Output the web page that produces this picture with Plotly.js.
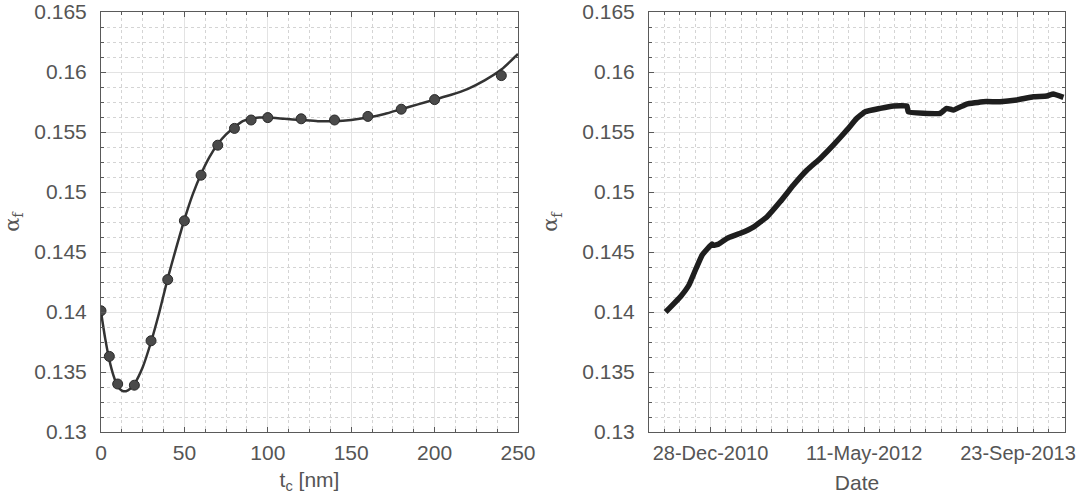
<!DOCTYPE html>
<html>
<head>
<meta charset="utf-8">
<script src="https://cdn.plot.ly/plotly-3.0.1.min.js"></script>
<style>html,body{margin:0;padding:0;background:#fff;}#chart{width:1077px;height:494px;}</style>
</head>
<body>
<div id="chart"></div>
<script>
// Left panel: measured points
const thickPts = [0, 5, 10, 20, 30, 40, 50, 60, 70, 80, 90, 100, 120, 140, 160, 180, 200, 240];
const alphaPts = [0.1401, 0.1363, 0.1340, 0.1339, 0.1376, 0.1427, 0.1476, 0.1514, 0.1539, 0.1553, 0.1560, 0.1562, 0.1561, 0.1560, 0.1563, 0.1569, 0.1577, 0.1597];
// Left panel: fitted curve
const thickFit = [0, 2.5, 5, 7.5, 10, 12.5, 15, 17.5, 20, 25, 30, 35, 40, 45, 50, 55, 60, 65, 70, 75, 80, 85, 90, 95, 100, 110, 120, 130, 140, 150, 160, 170, 180, 190, 200, 210, 220, 230, 240, 250];
const alphaFit = [0.1400, 0.1378, 0.1360, 0.1347, 0.1338, 0.13345, 0.1334, 0.1336, 0.1340, 0.1354, 0.1375, 0.1400, 0.1428, 0.1453, 0.1477, 0.1498, 0.1515, 0.1529, 0.1540, 0.1548, 0.1554, 0.1559, 0.1561, 0.1562, 0.1562, 0.1561, 0.1560, 0.1559, 0.1559, 0.1560, 0.1562, 0.1565, 0.1569, 0.1573, 0.1577, 0.1581, 0.1586, 0.1593, 0.1602, 0.1615];
// Right panel: time series
const dates = ['2010-08-04','2010-09-22','2010-10-19','2010-11-09','2010-12-01','2011-01-02','2011-01-06','2011-01-24','2011-02-20','2011-04-04','2011-05-18','2011-06-30','2011-08-12','2011-09-24','2011-11-07','2011-12-20','2012-02-01','2012-03-16','2012-04-17','2012-05-14','2012-07-02','2012-08-14','2012-09-27','2012-10-01','2012-11-19','2013-01-13','2013-02-03','2013-02-25','2013-04-09','2013-06-02','2013-07-27','2013-09-19','2013-11-12','2013-12-26','2014-01-16','2014-02-18'];
const alphaDates = [0.1400, 0.1413, 0.14225, 0.1435, 0.14475, 0.14567, 0.14555, 0.14567, 0.14614, 0.14656, 0.1471, 0.14794, 0.1492, 0.15058, 0.15183, 0.1528, 0.15392, 0.15517, 0.15614, 0.15669, 0.15697, 0.15717, 0.15717, 0.15669, 0.15656, 0.15656, 0.15697, 0.15683, 0.15733, 0.15753, 0.15753, 0.15767, 0.15794, 0.1580, 0.15817, 0.15789];
const yTicks = [0.13, 0.135, 0.14, 0.145, 0.15, 0.155, 0.16, 0.165];
const yTickText = ['0.13', '0.135', '0.14', '0.145', '0.15', '0.155', '0.16', '0.165'];

const FONT = 'Liberation Sans, Arial, Helvetica, sans-serif';
const TXT = '#555555';
const DAY = 86400000;

const baseAxis = {
  showline: true, linecolor: '#5a5a5a', linewidth: 1, mirror: 'ticks',
  ticks: 'inside', ticklen: 5, tickcolor: '#5a5a5a', tickwidth: 1,
  showgrid: true, gridcolor: '#e3e3e3', gridwidth: 1,
  zeroline: false, tickfont: {family: FONT, size: 21, color: TXT},
  ticklabeloverflow: 'allow',
  automargin: false
};

const yAxisCommon = Object.assign({}, baseAxis, {
  range: [0.13, 0.165], tickvals: yTicks, ticktext: yTickText,
  ticklabelstandoff: 9,
  minor: {dtick: 0.00125, tick0: 0.13, ticks: 'inside', ticklen: 3, tickcolor: '#5a5a5a', showgrid: true, gridcolor: '#d4d4d4', griddash: 'dot', gridwidth: 1},
  title: {text: 'α<sub>f</sub>', font: {family: 'DejaVu Serif, serif', size: 21, color: TXT}, standoff: 18}
});

const data = [
  {x: thickFit, y: alphaFit, type: 'scatter', mode: 'lines', line: {color: '#333333', width: 2.5, shape: 'spline', smoothing: 0.6}, xaxis: 'x', yaxis: 'y', hoverinfo: 'skip'},
  {x: thickPts, y: alphaPts, type: 'scatter', mode: 'markers', marker: {color: '#4a4a4a', size: 10, line: {color: '#2a2a2a', width: 1}}, xaxis: 'x', yaxis: 'y'},
  {x: dates, y: alphaDates, type: 'scatter', mode: 'lines', line: {color: '#1e1e1e', width: 5.5, shape: 'spline', smoothing: 0.3}, xaxis: 'x2', yaxis: 'y2'}
];

const layout = {
  width: 1077, height: 494, showlegend: false,
  paper_bgcolor: '#ffffff', plot_bgcolor: '#ffffff',
  margin: {l: 0, r: 0, t: 0, b: 0},
  xaxis: Object.assign({}, baseAxis, {
    domain: [101/1077, 518/1077], anchor: 'y', range: [0, 250],
    tickvals: [0, 50, 100, 150, 200, 250], ticklabelstandoff: 2,
    minor: {dtick: 12.5, tick0: 0, ticks: 'inside', ticklen: 3, tickcolor: '#5a5a5a', showgrid: true, gridcolor: '#d4d4d4', griddash: 'dot', gridwidth: 1},
    title: {text: 't<sub>c</sub> [nm]', font: {family: FONT, size: 21, color: TXT}, standoff: 30}
  }),
  yaxis: Object.assign({}, yAxisCommon, {domain: [1 - 432/494, 1 - 12/494], anchor: 'x'}),
  xaxis2: Object.assign({}, baseAxis, {
    domain: [649/1077, 1065/1077], anchor: 'y2', type: 'date',
    range: ['2010-06-11', '2014-02-23'],
    tickfont: {family: FONT, size: 20, color: TXT},
    tick0: '2010-12-28', dtick: 500 * DAY, tickformat: '%d-%b-%Y', ticklabelstandoff: 3,
    minor: {dtick: 50 * DAY, tick0: '2010-12-28', ticks: 'inside', ticklen: 3, tickcolor: '#5a5a5a', showgrid: true, gridcolor: '#d4d4d4', griddash: 'dot', gridwidth: 1},
    title: {text: 'Date', font: {family: FONT, size: 21, color: TXT}, standoff: 30}
  }),
  yaxis2: Object.assign({}, yAxisCommon, {domain: [1 - 432/494, 1 - 12/494], anchor: 'x2'})
};

Plotly.newPlot('chart', data, layout, {displayModeBar: false, staticPlot: true});
</script>
</body>
</html>
